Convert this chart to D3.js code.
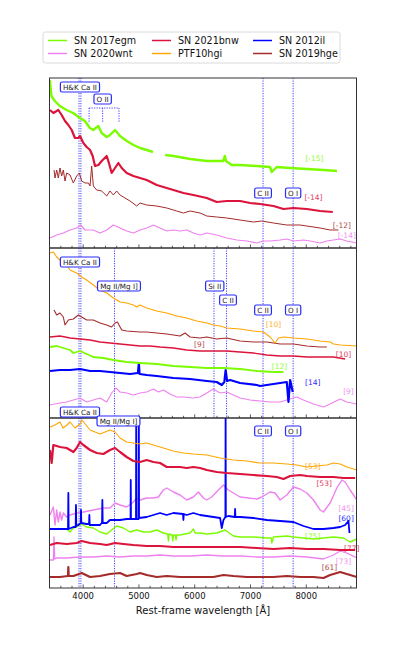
<!DOCTYPE html>
<html><head><meta charset="utf-8">
<script src="https://cdn.jsdelivr.net/npm/d3@7"></script>
<style>body{margin:0;background:#fff}svg text{font-family:"DejaVu Sans",sans-serif}</style>
</head><body><svg id="c" width="397" height="661"></svg>
<script>
// ---------- categories / legend ----------
const names = ["SN 2017egm","SN 2021bnw","SN 2012il","SN 2020wnt","PTF10hgi","SN 2019hge"];
const colors = ["#7cfc00","#dc143c","#0000ff","#ee82ee","#ffa500","#a52a2a"];
const majorTicks = [4000,5000,6000,7000,8000];
const tickLabels = ["4000","5000","6000","7000","8000"];
const xTitle = "Rest-frame wavelength [Å]";

// ---------- spectra: [wavelength (Å), scaled flux + offset] ----------
// Panel 1
const p1_egm = [[3410,1.68],[3440,1.52],[3500,1.47],[3590,1.42],[3710,1.38],[3830,1.35],[3950,1.30],[4040,1.27],[4130,1.20],[4190,1.18],[4280,1.22],[4340,1.15],[4430,1.11],[4490,1.13],[4580,1.18],[4670,1.12],[4790,1.07],[4910,1.03],[5030,1.00],[5150,0.98],[5260,0.96],[5370,null],[5480,0.93],[5630,0.92],[5930,0.89],[6230,0.87],[6520,0.87],[6550,0.92],[6570,0.87],[6670,0.83],[6820,0.83],[7120,0.82],[7360,0.81],[7390,0.76],[7480,0.81],[7720,0.80],[8020,0.79],[8320,0.78],[8560,0.77]];
const p1_bnw = [[3414,1.38],[3474,1.35],[3563,1.38],[3623,1.33],[3683,1.27],[3743,1.23],[3803,1.18],[3862,1.10],[3922,1.10],[3952,1.12],[4012,1.05],[4072,1.01],[4132,0.98],[4179,0.92],[4221,0.82],[4281,0.83],[4341,0.87],[4431,0.92],[4460,0.87],[4520,0.75],[4580,0.80],[4640,0.85],[4700,0.80],[4789,0.75],[4909,0.72],[5029,0.70],[5148,0.68],[5328,0.63],[5507,0.60],[5627,0.58],[5806,0.55],[5985,0.53],[6225,0.50],[6404,0.46],[6583,0.47],[6823,0.47],[7002,0.45],[7181,0.44],[7301,0.43],[7421,0.42],[7600,0.39],[7779,0.40],[8019,0.39],[8258,0.37],[8485,0.36]];
const p1_hge = [[3486,0.78],[3504,0.70],[3534,0.78],[3563,0.70],[3593,0.80],[3623,0.72],[3653,0.78],[3683,0.67],[3713,0.75],[3773,0.73],[3833,0.65],[3892,0.72],[3940,0.75],[3982,0.67],[4042,0.65],[4102,0.65],[4132,0.62],[4161,0.82],[4191,0.62],[4251,0.58],[4341,0.57],[4431,0.52],[4490,0.57],[4550,0.53],[4610,0.57],[4670,0.53],[4759,0.50],[4849,0.47],[4969,0.42],[5029,0.45],[5148,0.43],[5328,0.42],[5507,0.40],[5686,0.37],[5806,0.35],[5926,0.37],[6105,0.35],[6225,0.32],[6404,0.31],[6583,0.30],[6823,0.28],[7062,0.26],[7211,0.27],[7421,0.25],[7660,0.23],[7899,0.23],[8019,0.22],[8258,0.20],[8437,0.18],[8587,0.18]];
const p1_wnt = [[3414,0.10],[3534,0.13],[3653,0.15],[3773,0.18],[3892,0.20],[3964,0.23],[4042,0.18],[4191,0.18],[4311,0.15],[4431,0.18],[4550,0.23],[4670,0.20],[4789,0.17],[4909,0.15],[5029,0.18],[5148,0.20],[5268,0.23],[5387,0.20],[5507,0.17],[5627,0.18],[5746,0.17],[5866,0.18],[5985,0.15],[6105,0.13],[6225,0.15],[6404,0.13],[6583,0.10],[6763,0.08],[6942,0.07],[7122,0.05],[7241,0.07],[7361,0.07],[7540,0.08],[7660,0.09],[7779,0.07],[7959,0.08],[8079,0.07],[8258,0.05],[8378,0.07],[8497,0.08],[8617,0.09],[8736,0.07],[8916,0.05]];
// Panel 2
const p2_hgi = [[3414,1.65],[3474,1.66],[3534,1.61],[3593,1.58],[3683,1.55],[3773,1.48],[3892,1.45],[3982,1.41],[4072,1.38],[4191,1.33],[4311,1.28],[4431,1.25],[4550,1.20],[4670,1.16],[4789,1.15],[4909,1.13],[4969,1.11],[5029,1.13],[5148,1.10],[5328,1.07],[5507,1.05],[5686,1.02],[5866,1.00],[6045,0.97],[6225,0.95],[6344,0.93],[6464,0.92],[6583,0.90],[6823,0.89],[7062,0.87],[7241,0.86],[7361,0.81],[7450,0.75],[7510,0.80],[7600,0.81],[7779,0.80],[8019,0.79],[8258,0.77],[8437,0.76],[8497,0.74],[8617,0.73],[8916,0.72]];
const p2_hge = [[3486,1.08],[3534,1.03],[3593,1.05],[3653,1.01],[3683,0.93],[3743,0.98],[3833,0.99],[3922,1.03],[3982,1.01],[4072,0.98],[4191,0.98],[4311,0.95],[4431,0.93],[4520,0.91],[4580,0.95],[4622,0.96],[4700,0.88],[4789,0.87],[5029,0.86],[5148,0.86],[5328,0.85],[5507,0.84],[5627,0.83],[5746,0.82],[5836,0.85],[5926,0.81],[6105,0.80],[6225,0.81],[6404,0.79],[6583,0.80],[6823,0.77],[7062,0.76],[7301,0.76],[7540,0.74],[7779,0.74],[8019,0.72],[8258,0.71],[8378,0.71]];
const p2_bnw = [[3414,0.81],[3593,0.82],[3773,0.80],[3952,0.79],[4132,0.78],[4311,0.76],[4490,0.75],[4670,0.74],[4849,0.73],[5029,0.72],[5208,0.72],[5387,0.71],[5627,0.70],[5866,0.68],[6105,0.67],[6344,0.67],[6583,0.67],[6823,0.66],[7062,0.65],[7301,0.63],[7540,0.62],[7779,0.62],[8019,0.61],[8258,0.61],[8497,0.61],[8706,0.59]];
const p2_egm = [[3414,0.71],[3534,0.72],[3653,0.70],[3773,0.68],[3833,0.65],[3952,0.67],[4072,0.64],[4191,0.61],[4371,0.60],[4550,0.58],[4789,0.56],[5029,0.55],[5328,0.54],[5627,0.52],[5926,0.51],[6225,0.50],[6524,0.50],[6823,0.49],[7122,0.47],[7421,0.46],[7600,0.46]];
const p2_il = [[3414,0.47],[3593,0.48],[3773,0.48],[3952,0.49],[4132,0.47],[4311,0.47],[4490,0.46],[4670,0.45],[4849,0.44],[4990,0.45],[5008,0.55],[5020,0.44],[5148,0.43],[5328,0.42],[5627,0.40],[5926,0.39],[6225,0.37],[6404,0.36],[6494,0.33],[6540,0.36],[6563,0.48],[6590,0.37],[6643,0.38],[6823,0.35],[7122,0.33],[7181,0.32],[7421,0.34],[7660,0.36],[7690,0.16],[7720,0.38],[7767,0.26]];
const p2_wnt = [[3414,0.13],[3593,0.15],[3713,0.16],[3833,0.18],[3952,0.20],[4072,0.16],[4191,0.18],[4311,0.20],[4431,0.16],[4520,0.25],[4598,0.30],[4670,0.26],[4789,0.25],[4909,0.23],[5029,0.25],[5148,0.26],[5268,0.29],[5357,0.26],[5447,0.28],[5567,0.24],[5686,0.21],[5806,0.21],[5985,0.20],[6105,0.21],[6225,0.25],[6344,0.29],[6464,0.25],[6583,0.26],[6703,0.23],[6823,0.20],[7002,0.18],[7181,0.17],[7361,0.16],[7540,0.16],[7720,0.19],[7839,0.21],[7959,0.18],[8138,0.14],[8318,0.11],[8437,0.14],[8617,0.19],[8736,0.16],[8916,0.14]];
// Panel 3
const p3_hgi = [[3414,1.61],[3504,1.63],[3593,1.66],[3647,1.60],[3719,1.63],[3773,1.66],[3862,1.60],[3952,1.64],[3988,1.68],[4060,1.63],[4132,1.58],[4221,1.56],[4311,1.54],[4401,1.56],[4490,1.58],[4580,1.56],[4670,1.50],[4789,1.46],[4909,1.45],[5029,1.44],[5148,1.45],[5268,1.43],[5447,1.40],[5627,1.37],[5806,1.35],[5985,1.34],[6225,1.33],[6464,1.30],[6703,1.28],[6942,1.27],[7181,1.25],[7421,1.25],[7660,1.24],[7839,1.23],[8019,1.21],[8198,1.22],[8378,1.23],[8497,1.25],[8617,1.24],[8736,1.21],[8916,1.18]];
const p3_bnw = [[3414,1.38],[3444,1.25],[3474,1.43],[3593,1.41],[3713,1.40],[3833,1.36],[3892,1.40],[3952,1.46],[4012,1.43],[4132,1.38],[4251,1.35],[4371,1.34],[4490,1.38],[4580,1.40],[4670,1.36],[4789,1.31],[4909,1.27],[5029,1.26],[5148,1.28],[5268,1.26],[5387,1.25],[5507,1.21],[5627,1.21],[5746,1.21],[5866,1.20],[5985,1.21],[6105,1.20],[6225,1.18],[6404,1.16],[6583,1.15],[6823,1.14],[7062,1.13],[7301,1.12],[7480,1.11],[7600,1.09],[7720,1.12],[7899,1.13],[8019,1.12],[8258,1.11],[8497,1.11],[8677,1.10],[8886,1.10]];
const p3_wnt = [[3414,0.73],[3474,0.81],[3504,0.63],[3534,0.78],[3563,0.66],[3593,0.76],[3623,0.68],[3653,0.75],[3713,0.71],[3773,0.73],[3892,0.75],[4012,0.76],[4191,0.78],[4371,0.80],[4490,0.80],[4580,0.85],[4670,0.83],[4789,0.81],[4909,0.86],[4969,0.90],[5029,0.88],[5148,0.90],[5268,0.90],[5357,0.91],[5447,0.98],[5507,1.00],[5627,0.96],[5746,0.93],[5866,0.88],[5985,0.91],[6075,0.96],[6165,0.90],[6225,0.88],[6315,0.91],[6434,0.98],[6524,1.03],[6613,0.98],[6703,0.95],[6823,0.91],[6972,0.90],[7122,0.89],[7211,0.91],[7361,0.96],[7450,0.95],[7540,0.88],[7660,0.93],[7779,1.01],[7899,0.99],[8019,0.95],[8138,0.88],[8258,0.78],[8318,0.76],[8437,0.85],[8557,1.00],[8647,1.08],[8706,1.06],[8796,0.98],[8916,0.88]];
const p3_il = [[3414,0.59],[3593,0.59],[3737,0.59],[3743,0.95],[3749,0.59],[3833,0.61],[3874,0.61],[3880,0.83],[3886,0.62],[3922,0.63],[3964,0.65],[3970,0.78],[3976,0.65],[4072,0.64],[4114,0.64],[4120,0.73],[4126,0.63],[4311,0.63],[4341,0.65],[4347,0.65],[4353,0.88],[4359,0.65],[4431,0.65],[4490,0.68],[4670,0.68],[4789,0.69],[4858,0.69],[4862,1.08],[4866,0.69],[4956,0.69],[4960,1.85],[4964,0.69],[5003,0.69],[5007,1.85],[5011,0.70],[5148,0.71],[5268,0.73],[5387,0.75],[5507,0.73],[5627,0.75],[5798,0.74],[5806,0.68],[5814,0.74],[5866,0.73],[5985,0.75],[6105,0.73],[6225,0.72],[6344,0.71],[6464,0.70],[6494,0.60],[6524,0.68],[6559,0.71],[6563,1.85],[6567,0.71],[6613,0.72],[6727,0.71],[6733,0.79],[6739,0.71],[6823,0.71],[7062,0.70],[7301,0.68],[7540,0.67],[7779,0.66],[7959,0.62],[8138,0.59],[8318,0.59],[8497,0.60],[8617,0.61],[8706,0.63],[8766,0.67],[8784,0.55]];
const p3_egm = [[3713,0.59],[3773,0.56],[3833,0.60],[3922,0.62],[3982,0.64],[4072,0.61],[4191,0.60],[4311,0.56],[4431,0.54],[4520,0.58],[4610,0.62],[4730,0.60],[4849,0.56],[4969,0.58],[5088,0.56],[5208,0.56],[5328,0.58],[5447,0.55],[5525,0.54],[5537,0.47],[5549,0.54],[5603,0.53],[5615,0.47],[5627,0.53],[5662,0.53],[5674,0.48],[5686,0.53],[5746,0.53],[5926,0.55],[5985,0.59],[6015,0.55],[6105,0.55],[6225,0.54],[6404,0.55],[6553,0.58],[6703,0.52],[6823,0.51],[7062,0.51],[7301,0.50],[7379,0.50],[7391,0.45],[7421,0.51],[7660,0.52],[7779,0.51],[7959,0.50],[8138,0.49],[8318,0.50],[8497,0.51],[8677,0.50],[8796,0.46],[8916,0.49]];
const p3_bnw2 = [[3414,0.43],[3534,0.45],[3713,0.44],[3892,0.45],[3982,0.47],[4132,0.45],[4311,0.44],[4431,0.43],[4580,0.45],[4730,0.44],[4909,0.43],[5148,0.42],[5387,0.42],[5627,0.41],[5926,0.41],[6225,0.41],[6524,0.41],[6823,0.41],[7122,0.40],[7421,0.39],[7720,0.40],[8019,0.39],[8318,0.39],[8617,0.38],[8886,0.38]];
const p3_wnt2 = [[3414,0.28],[3474,0.28],[3486,0.51],[3498,0.29],[3534,0.30],[3713,0.30],[3952,0.31],[4191,0.31],[4431,0.32],[4670,0.31],[4909,0.32],[5148,0.32],[5387,0.33],[5627,0.32],[5926,0.32],[6225,0.33],[6524,0.32],[6823,0.32],[7122,0.31],[7421,0.31],[7720,0.32],[8019,0.31],[8318,0.29],[8497,0.33],[8617,0.37],[8736,0.35],[8916,0.30]];
const p3_hge = [[3414,0.11],[3593,0.11],[3737,0.12],[3743,0.21],[3749,0.12],[3833,0.12],[3982,0.15],[4132,0.11],[4311,0.12],[4490,0.14],[4670,0.15],[4789,0.12],[4969,0.14],[5029,0.15],[5148,0.13],[5328,0.11],[5507,0.12],[5746,0.11],[5926,0.11],[6105,0.11],[6344,0.11],[6524,0.13],[6703,0.12],[6942,0.11],[7181,0.11],[7421,0.11],[7660,0.12],[7899,0.11],[8138,0.11],[8318,0.10],[8437,0.13],[8617,0.16],[8736,0.14],[8916,0.11]];

// ---------- line identifications ----------
const HK = [3934,3968], MG = [4571], SI = [6355], C1 = [6580], C2 = [7234], OI = [7774], OII = [4115,4358,4651];

// ---------- panel composition ----------
const panels = [
  { spectra: [
      {sn:3,data:p1_wnt,w:1.2,ph:"[-14]",at:[8736,0.13]},
      {sn:5,data:p1_hge,w:1.0,ph:"[-12]",at:[8647,0.23]},
      {sn:1,data:p1_bnw,w:2.2,ph:"[-14]",at:[8138,0.51]},
      {sn:0,data:p1_egm,w:2.4,ph:"[-15]",at:[8156,0.90]} ],
    lines: [HK, C2, OI],
    boxes: [["H&K Ca II",3951,1.61],["O II",4358,1.49],["C II",7234,0.55],["O I",7774,0.55]],
    bracket: true },
  { spectra: [
      {sn:3,data:p2_wnt,w:1.1,ph:"[9]",at:[8766,0.27]},
      {sn:2,data:p2_il,w:2.2,ph:"[14]",at:[8126,0.36]},
      {sn:0,data:p2_egm,w:1.8,ph:"[12]",at:[7528,0.52]},
      {sn:1,data:p2_bnw,w:1.4,ph:"[10]",at:[8677,0.64]},
      {sn:5,data:p2_hge,w:1.1,ph:"[9]",at:[6093,0.74]},
      {sn:4,data:p2_hgi,w:1.1,ph:"[10]",at:[7421,0.94]} ],
    lines: [HK, MG, SI, C1, C2, OI],
    boxes: [["H&K Ca II",3951,1.56],["Mg II/Mg I]",4651,1.32],["Si II",6368,1.32],["C II",6606,1.18],["C II",7234,1.08],["O I",7774,1.08]] },
  { spectra: [
      {sn:5,data:p3_hge,w:2.2,ph:"[61]",at:[8425,0.21]},
      {sn:3,data:p3_wnt2,w:1.3,ph:"[73]",at:[8677,0.27]},
      {sn:1,data:p3_bnw2,w:2.0,ph:"[77]",at:[8826,0.40]},
      {sn:0,data:p3_egm,w:1.4,ph:"[75]",at:[8126,0.52]},
      {sn:3,data:p3_wnt,w:1.4,ph:"[45]",at:[8724,0.80]},
      {sn:2,data:p3_il,w:1.8,ph:"[60]",at:[8724,0.70]},
      {sn:1,data:p3_bnw,w:2.2,ph:"[53]",at:[8330,1.05]},
      {sn:4,data:p3_hgi,w:1.1,ph:"[53]",at:[8126,1.22]} ],
    lines: [HK, MG, C2, OI],
    boxes: [["H&K Ca II",3951,1.76],["Mg II/Mg I]",4642,1.67],["C II",7234,1.57],["O I",7774,1.57]] }
];

// ---------- drawing ----------
const svg = d3.select("#c");
const L = 49.5, R = 356.5, T = 78, PH = 170;
const x = d3.scaleLinear().domain([3405, 8910]).range([L, R]);
const minorTicks = d3.range(3600, 8900, 200).filter(v => v % 1000 !== 0);
const idColor = "#2a2aff";

panels.forEach((p, i) => {
  const top = T + i * PH, bot = top + PH;
  const y = d3.scaleLinear().domain([0, 1.7]).range([bot, top]);
  const g = svg.append("g");
  const cid = "clip" + i;
  svg.append("clipPath").attr("id", cid).append("rect").attr("x", L).attr("y", top).attr("width", R - L).attr("height", PH);
  const plot = g.append("g").attr("clip-path", `url(#${cid})`);

  p.lines.flat().forEach(w => {
    plot.append("line").attr("x1", x(w)).attr("x2", x(w)).attr("y1", top).attr("y2", bot)
      .attr("stroke", idColor).attr("stroke-width", 0.9).attr("stroke-dasharray", "1.2,1.3");
  });
  if (p.bracket) {
    plot.append("line").attr("x1", x(OII[0])).attr("x2", x(OII[2])).attr("y1", y(1.40)).attr("y2", y(1.40))
      .attr("stroke", idColor).attr("stroke-width", 0.9).attr("stroke-dasharray", "1.2,1.3");
    OII.forEach(w => plot.append("line").attr("x1", x(w)).attr("x2", x(w)).attr("y1", y(1.40)).attr("y2", y(1.26))
      .attr("stroke", idColor).attr("stroke-width", 0.9).attr("stroke-dasharray", "1.2,1.3"));
  }

  const line = d3.line().defined(d => d[1] !== null).x(d => x(d[0])).y(d => y(d[1]));
  p.spectra.forEach(s => {
    plot.append("path").attr("d", line(s.data)).attr("fill", "none")
      .attr("stroke", colors[s.sn]).attr("stroke-width", s.w).attr("stroke-linejoin", "round");
  });

  p.spectra.forEach(s => {
    g.append("text").attr("x", x(s.at[0])).attr("y", y(s.at[1])).attr("dy", "0.35em")
      .attr("text-anchor", "middle").attr("font-size", 7.5).attr("fill", colors[s.sn]).attr("opacity", 0.85).text(s.ph);
  });

  const axMinor = d3.axisBottom(x).tickValues(minorTicks).tickSize(-2.2).tickFormat("");
  const axMajor = d3.axisBottom(x).tickValues(majorTicks).tickSize(-3.6).tickPadding(5)
      .tickFormat((d, k) => i === 2 ? tickLabels[k] : "");
  const ga = g.append("g").attr("transform", `translate(0,${bot})`).call(axMinor);
  const gb = g.append("g").attr("transform", `translate(0,${bot})`).call(axMajor);
  [ga, gb].forEach(a => { a.select(".domain").remove(); a.selectAll("line").attr("stroke", "#333").attr("stroke-width", 0.8); });
  gb.selectAll("text").attr("font-size", 8.5).attr("fill", "#111").attr("font-family", "DejaVu Sans");

  g.append("rect").attr("x", L).attr("y", top).attr("width", R - L).attr("height", PH)
    .attr("fill", "none").attr("stroke", "#333").attr("stroke-width", 1);
});

panels.forEach((p, i) => {
  const top = T + i * PH, bot = top + PH;
  const y = d3.scaleLinear().domain([0, 1.7]).range([bot, top]);
  p.boxes.forEach(b => {
    const gb = svg.append("g");
    const t = gb.append("text").attr("x", x(b[1])).attr("y", y(b[2])).attr("dy", "0.36em")
      .attr("text-anchor", "middle").attr("font-size", 7.2).attr("fill", "#222").text(b[0]);
    const w = t.node().getComputedTextLength();
    gb.insert("rect", "text").attr("x", x(b[1]) - w / 2 - 2.6).attr("y", y(b[2]) - 5).attr("width", w + 5.2).attr("height", 10)
      .attr("rx", 1.8).attr("fill", "#fff").attr("stroke", idColor).attr("stroke-width", 1.2);
  });
});

svg.append("text").attr("x", (L + R) / 2).attr("y", 614).attr("text-anchor", "middle")
  .attr("font-size", 10).attr("fill", "#111").text(xTitle);

const lg = svg.append("g");
lg.append("rect").attr("x", 43).attr("y", 32).attr("width", 297).attr("height", 31).attr("rx", 2.5)
  .attr("fill", "#fff").attr("stroke", "#d0d0d0").attr("stroke-width", 0.8);
const colX = [48, 152, 253];
const rowY = [40.5, 53.5];
names.forEach((n, k) => {
  const cx = colX[k % 3], cy = rowY[Math.floor(k / 3)];
  lg.append("line").attr("x1", cx).attr("x2", cx + 19).attr("y1", cy).attr("y2", cy)
    .attr("stroke", colors[k]).attr("stroke-width", 1.5);
  lg.append("text").attr("x", cx + 26).attr("y", cy).attr("dy", "0.35em").attr("font-size", 9.6).attr("fill", "#111").text(n);
});
</script></body></html>
